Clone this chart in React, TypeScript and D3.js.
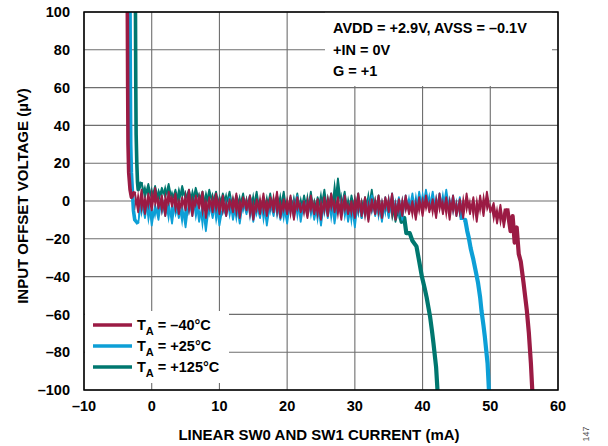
import { useEffect, useRef } from 'react';
import * as d3 from 'd3';

// axis ticks
const xTicks = [-10, 0, 10, 20, 30, 40, 50, 60];
const yTicks = [-100, -80, -60, -40, -20, 0, 20, 40, 60, 80, 100];

// noisy flat part of every trace is sampled every 0.5 mA
const noiseStep = 0.5;

// TA = -40°C
const redRise: [number, number][] = [[-3.6, 100], [-3.55, 60], [-3.5, 30], [-3.4, 15], [-3.2, 6], [-3.0, 2]];
const redNoiseStart = -2.5;
const redNoise = [
  5, -6, 6, -7, 4, -5, 7, -4, 3, -8, 5, -3, 4, -7, 2, -5, 6, -8, 3, -4,
  5, -9, 2, -6, 4, -7, 3, -8, 1, -6, 4, -9, 2, -5, 3, -10, 1, -7, 4, -8,
  2, -6, 5, -9, 1, -7, 3, -10, 2, -6, 0, -9, 3, -7, 1, -10, 2, -8, 4, -6,
  2, -10, 3, -7, 0, -9, 4, -8, 2, -11, 1, -7, 3, -9, 2, -6, 4, -10, 1, -8,
  3, -7, 0, -10, 2, -8, 3, -6, 1, -9, 4, -7, 2, -10, 3, -8, 1, -9, 4, -7,
  2, -11, 3, -8, 5, -6, -1, -12, -2, -14, -4,
];
const redFall: [number, number][] = [
  [53, -16], [53.3, -8], [53.6, -22], [53.9, -14], [54.2, -28], [54.5, -32], [54.9, -43],
  [55.2, -52], [55.4, -58], [55.7, -70], [56.0, -86], [56.2, -100],
];

// TA = +25°C
const blueRise: [number, number][] = [[-3.2, 100], [-3.15, 60], [-3.1, 30], [-3.0, 15], [-2.85, 5], [-2.7, -5], [-2.5, -10]];
const blueNoiseStart = -2;
const blueNoise = [
  -12, 1, -9, 2, -13, -2, -10, 2, -8, -1, -12, 1, -9, -3, -14, 0, -8, 2, -11, -2,
  -16, -1, -9, 1, -13, -3, -8, 2, -10, -1, -12, 0, -7, 3, -11, -2, -9, 1, -13, -1,
  -8, 2, -10, -2, -12, 1, -9, 3, -11, 0, -8, 2, -10, -1, -13, 1, -9, 2, -12, 0,
  -8, 3, -11, -1, -14, 2, -9, 0, -10, 3, -8, 1, -11, 2, -9, 4, -7, 2, -10, 3,
  -6, 4, -8, 5, -5, 6, -4, 5, -7, 4, -5, 6, -6, 3, -8, 2, -10,
];
const blueFall: [number, number][] = [
  [46.3, -10], [46.6, -16], [46.8, -19], [47.1, -25], [47.5, -31], [47.9, -38], [48.2, -43.5],
  [48.5, -51], [48.7, -58], [49.0, -66], [49.2, -72], [49.4, -79], [49.6, -86], [49.8, -100],
];

// TA = +125°C
const tealRise: [number, number][] = [[-2.4, 100], [-2.35, 60], [-2.3, 35], [-2.2, 20], [-2.1, 10], [-2.0, 6]];
const tealNoiseStart = -1.5;
const tealNoise = [
  10, 2, 9, 1, 8, 0, 7, 2, 9, 0, 6, -1, 8, 1, 6, -2, 7, 0, 5, -3,
  6, -1, 5, -4, 4, -2, 5, -5, 3, -3, 4, -6, 3, -4, 5, -7, 2, -5, 4, -6,
  3, -4, 5, -8, 2, -5, 4, -7, 3, -6, 5, -8, 2, -4, 6, -7, 4, -5, 12, -3,
  5, -8, 3, -6, 4, -9, 2, -5, 6, -7, 3, -10, 1, -8, 2, -11, -4,
];
const tealFall: [number, number][] = [
  [36.9, -11], [37.3, -9], [37.6, -17], [38.1, -17], [38.5, -21], [39.1, -24], [39.5, -32],
  [39.9, -40], [40.3, -46], [40.6, -51], [41.1, -61], [41.4, -69], [41.6, -75], [42.0, -88], [42.2, -100],
];

const seriesLabels = ['–40°C', '+25°C', '+125°C'];
const seriesColors = ['#9b1b44', '#0d9fd6', '#00776f'];

const notes = ['AVDD = +2.9V, AVSS = –0.1V', '+IN = 0V', 'G = +1'];

type Pt = [number, number];

const buildTrace = (rise: Pt[], start: number, noise: number[], fall: Pt[]) => {
  const flat = noise.map((v, i) => [start + i * noiseStep, v] as Pt);
  return {
    rise: [...rise, flat[0]],
    flat,
    fall: [flat[flat.length - 1], ...fall],
  };
};

const traces = [
  buildTrace(redRise, redNoiseStart, redNoise, redFall),
  buildTrace(blueRise, blueNoiseStart, blueNoise, blueFall),
  buildTrace(tealRise, tealNoiseStart, tealNoise, tealFall),
];

const W = 608;
const H = 446;
const margin = { left: 84, right: 50, top: 12, bottom: 56 };
const FONT = '"Liberation Sans", Arial, sans-serif';

export default function App() {
  const svgRef = useRef<SVGSVGElement | null>(null);

  useEffect(() => {
    if (!svgRef.current) return;
    const svg = d3.select(svgRef.current);
    svg.selectAll('*').remove();

    const x = d3.scaleLinear().domain([-10, 60]).range([margin.left, W - margin.right]);
    const y = d3.scaleLinear().domain([-100, 100]).range([H - margin.bottom, margin.top]);
    const [x0, x1] = x.range();
    const [y0, y1] = [y(100), y(-100)];

    svg.append('rect').attr('width', W).attr('height', H).attr('fill', '#fff');

    svg.append('defs').append('clipPath').attr('id', 'plot-clip')
      .append('rect').attr('x', x0).attr('y', y0).attr('width', x1 - x0).attr('height', y1 - y0);

    // grid
    const grid = svg.append('g').attr('stroke', '#6e6e6e').attr('stroke-width', 1.1);
    grid.selectAll('line.v').data(xTicks).join('line')
      .attr('x1', d => x(d)).attr('x2', d => x(d)).attr('y1', y0).attr('y2', y1);
    grid.selectAll('line.h').data(yTicks).join('line')
      .attr('y1', d => y(d)).attr('y2', d => y(d)).attr('x1', x0).attr('x2', x1);

    // boxes that hide the grid behind notes and legend
    svg.append('rect').attr('x', 325).attr('y', y0).attr('width', 227).attr('height', 74).attr('fill', '#fff');
    svg.append('rect').attr('x', x0 + 1).attr('y', 311).attr('width', 144).attr('height', 72).attr('fill', '#fff');

    // traces, -40°C drawn last (on top)
    const line = d3.line<Pt>().x(d => x(d[0])).y(d => y(d[1]));
    // dense noise: fill between each sample and the next one
    const band = (pts: Pt[]) =>
      d3.area<Pt>()
        .x(d => x(d[0]))
        .y0(d => y(d[1]))
        .y1((_, i) => y(pts[Math.min(i + 1, pts.length - 1)][1]))(pts);

    const traceG = svg.append('g').attr('clip-path', 'url(#plot-clip)').attr('stroke-linejoin', 'round');
    [2, 1, 0].forEach(i => {
      const c = seriesColors[i];
      const g = traceG.append('g');
      g.append('path').attr('d', band(traces[i].flat)).attr('fill', c).attr('stroke', 'none');
      g.append('path').attr('d', line(traces[i].flat)).attr('fill', 'none').attr('stroke', c).attr('stroke-width', 1.8);
      g.append('path').attr('d', line(traces[i].rise)).attr('fill', 'none').attr('stroke', c).attr('stroke-width', 3.6);
      g.append('path').attr('d', line(traces[i].fall)).attr('fill', 'none').attr('stroke', c).attr('stroke-width', 4.2);
    });

    // frame
    svg.append('rect').attr('x', x0).attr('y', y0).attr('width', x1 - x0).attr('height', y1 - y0)
      .attr('fill', 'none').attr('stroke', '#000').attr('stroke-width', 1.5);

    const text = svg.append('g').attr('font-family', FONT).attr('font-weight', 'bold').attr('fill', '#000');

    // tick labels
    text.selectAll('text.yt').data(yTicks).join('text')
      .attr('x', x0 - 14).attr('y', d => y(d)).attr('dy', '0.36em')
      .attr('text-anchor', 'end').attr('font-size', 14.5)
      .text(d => (d < 0 ? '–' + Math.abs(d) : String(d)));
    text.selectAll('text.xt').data(xTicks).join('text')
      .attr('x', d => x(d)).attr('y', y1 + 21)
      .attr('text-anchor', 'middle').attr('font-size', 14.5)
      .text(d => (d < 0 ? '–' + Math.abs(d) : String(d)));

    // axis titles
    text.append('text')
      .attr('x', (x0 + x1) / 2 - 2).attr('y', 440)
      .attr('text-anchor', 'middle').attr('font-size', 15)
      .text('LINEAR SW0 AND SW1 CURRENT (mA)');
    text.append('text')
      .attr('transform', `translate(28,196) rotate(-90)`)
      .attr('text-anchor', 'middle').attr('font-size', 15)
      .text('INPUT OFFSET VOLTAGE (µV)');

    // notes
    text.selectAll('text.note').data(notes).join('text')
      .attr('x', 333).attr('y', (_, i) => 33 + i * 21.5)
      .attr('font-size', 14.5)
      .text(d => d);

    // legend
    const leg = svg.append('g');
    seriesLabels.forEach((lab, i) => {
      const cy = 325 + i * 21;
      leg.append('line')
        .attr('x1', 93).attr('x2', 132).attr('y1', cy).attr('y2', cy)
        .attr('stroke', seriesColors[i]).attr('stroke-width', 3.4);
      const t = leg.append('text')
        .attr('x', 137).attr('y', cy + 5)
        .attr('font-family', FONT).attr('font-weight', 'bold').attr('font-size', 14.5);
      t.append('tspan').text('T');
      t.append('tspan').attr('dy', 5).attr('font-size', 11).text('A');
      t.append('tspan').attr('dy', -5).text(' = ' + lab);
    });

    // figure number
    svg.append('text')
      .attr('transform', 'translate(589,434) rotate(-90)')
      .attr('text-anchor', 'middle')
      .attr('font-family', FONT).attr('font-size', 9).attr('fill', '#555')
      .text('147');
  }, []);

  return (
    <svg
      ref={svgRef}
      width={W}
      height={H}
      style={{ position: 'absolute', left: 0, top: 0 }}
    />
  );
}
